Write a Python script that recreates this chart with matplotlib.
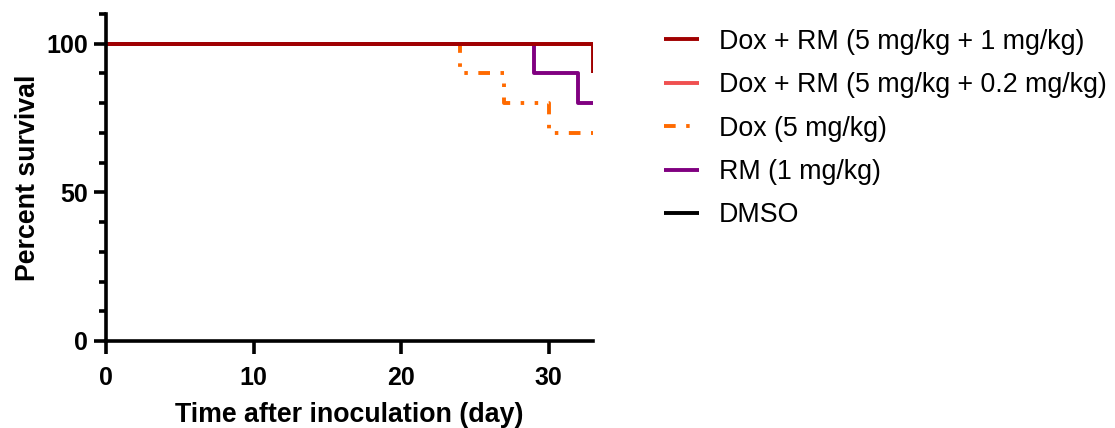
import matplotlib
matplotlib.use("Agg")
import matplotlib.pyplot as plt
from matplotlib.ticker import MultipleLocator

plt.rcParams["font.family"] = ["Liberation Sans", "DejaVu Sans"]

# survival curves (day, percent alive)
groups = [
    "DMSO",
    "Dox + RM (5 mg/kg + 0.2 mg/kg)",
    "Dox (5 mg/kg)",
    "RM (1 mg/kg)",
    "Dox + RM (5 mg/kg + 1 mg/kg)",
]
days_dmso = [0, 33]
surv_dmso = [100, 100]
days_combo_low = [0, 33]
surv_combo_low = [100, 100]
days_dox = [0, 24, 27, 30, 33]
surv_dox = [100, 90, 80, 70, 70]
days_rm = [0, 29, 32, 33]
surv_rm = [100, 90, 80, 80]
days_combo_high = [0, 33]
surv_combo_high = [100, 90]

legend_order = [
    "Dox + RM (5 mg/kg + 1 mg/kg)",
    "Dox + RM (5 mg/kg + 0.2 mg/kg)",
    "Dox (5 mg/kg)",
    "RM (1 mg/kg)",
    "DMSO",
]

colors = {
    "DMSO": "#000000",
    "Dox + RM (5 mg/kg + 0.2 mg/kg)": "#F05050",
    "Dox (5 mg/kg)": "#FF6A00",
    "RM (1 mg/kg)": "#800080",
    "Dox + RM (5 mg/kg + 1 mg/kg)": "#A00000",
}
styles = {
    "Dox (5 mg/kg)": (0, (3.0, 2.7, 0.9, 2.7, 0.9, 2.7)),
}

curves = {
    "DMSO": (days_dmso, surv_dmso),
    "Dox + RM (5 mg/kg + 0.2 mg/kg)": (days_combo_low, surv_combo_low),
    "Dox (5 mg/kg)": (days_dox, surv_dox),
    "RM (1 mg/kg)": (days_rm, surv_rm),
    "Dox + RM (5 mg/kg + 1 mg/kg)": (days_combo_high, surv_combo_high),
}

fig = plt.figure(figsize=(11.15, 4.28), dpi=100)
ax = fig.add_axes([106 / 1115, 1 - 341 / 428, (593 - 106) / 1115, (341 - 14) / 428])

handles = {}
for g in groups:
    x, y = curves[g]
    (ln,) = ax.step(x, y, where="post", color=colors[g], lw=2.8,
                    linestyle=styles.get(g, "-"), dash_capstyle="butt",
                    solid_capstyle="butt", label=g)
    handles[g] = ln

ax.set_xlim(0, 33)
ax.set_ylim(0, 110)
ax.xaxis.set_major_locator(MultipleLocator(10))
ax.yaxis.set_major_locator(MultipleLocator(50))
ax.yaxis.set_minor_locator(MultipleLocator(10))

for s in ["top", "right"]:
    ax.spines[s].set_visible(False)
for s in ["left", "bottom"]:
    ax.spines[s].set_linewidth(2.6)

ax.tick_params(which="major", length=9, width=2.6, labelsize=18)
ax.tick_params(axis="x", which="major", pad=9)
ax.tick_params(axis="y", which="major", pad=4)
ax.tick_params(which="minor", length=5, width=2.6)
for lbl in ax.get_xticklabels() + ax.get_yticklabels():
    lbl.set_fontweight("bold")

ax.set_xlabel("Time after inoculation (day)", fontsize=19.3, fontweight="bold", labelpad=9)
ax.set_ylabel("Percent survival", fontsize=19.3, fontweight="bold", labelpad=4)

fig.legend([handles[g] for g in legend_order], legend_order,
           loc="upper left", bbox_to_anchor=(653 / 1115, 1 - 18 / 428),
           frameon=False, fontsize=19.3, handlelength=1.3, handletextpad=0.75,
           labelspacing=0.65, borderaxespad=0)

fig.savefig("out.png", dpi=100)
